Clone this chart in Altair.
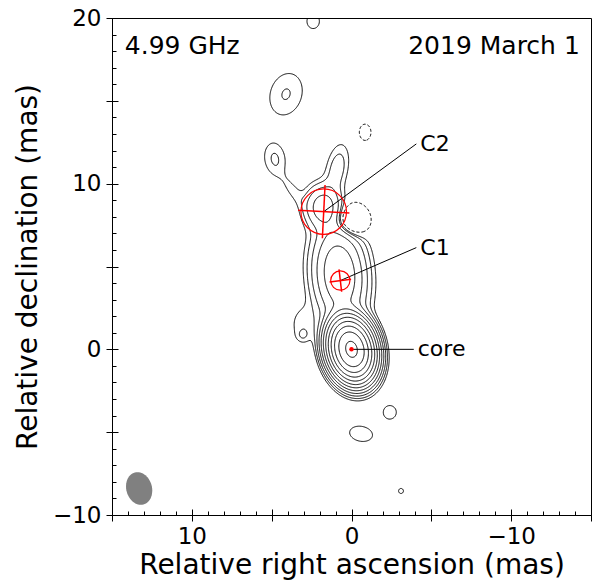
import numpy as np
import pandas as pd
import altair as alt

alt.data_transformers.disable_max_rows()

# ---------------- frame ----------------
X_DOMAIN = [15, -15]
Y_DOMAIN = [-10, 20]
W, H = 479, 497
x_major = [15, 10, 5, 0, -5, -10, -15]
y_major = [-10, -5, 0, 5, 10, 15, 20]
x_minor = list(range(-15, 16))
y_minor = list(range(-10, 21))

# ---------------- model image components read from the map ----------------
# position (mas), peak (units of lowest contour), sigma major/minor (mas), PA (deg, N through E)
comp_x    = [0.00, 0.75, 1.80, -0.05, 0.90, 3.70, 4.80, 4.10, -0.85, 2.40, 3.00, 3.05, -2.40, -0.60, -3.10]
comp_y    = [0.00, 4.50, 8.60, 7.75, 10.90, 9.60, 11.50, 15.40, 13.10, 19.80, 1.50, 0.85, -3.80, -5.10, -8.55]
comp_amp  = [2470, 29.0, 11.6, -8.0, 3.0, 1.3, 2.2, 2.1, -1.4, 1.6, 1.6, 1.3, 1.5, 1.5, 1.1]
comp_smaj = [0.80, 1.60, 0.75, 0.60, 1.00, 0.80, 0.75, 1.05, 0.60, 0.45, 0.80, 0.25, 0.45, 0.80, 0.35]
comp_smin = [0.58, 0.87, 0.65, 0.60, 0.45, 0.30, 0.50, 0.80, 0.45, 0.40, 0.60, 0.25, 0.45, 0.50, 0.35]
comp_pa   = [15, 5, 0, 0, -12, 36, 10, -20, 0, 0, 0, 0, 0, 80, 0]

levels_pos = [1, 2, 4, 8, 16, 32, 64, 128, 256, 512, 1024, 2048]
levels_neg = [-1]

# fitted components (red circles)
fit_name = ["core", "C1", "C2"]
fit_x = [0.00, 0.70, 1.74]
fit_y = [0.00, 4.15, 8.31]
fit_diam = [0.0, 1.36, 3.22]
fit_cross_pa = [0, 7, -3]
lab_x = [-3.9, -4.06, -4.06]
lab_y = [0.0, 6.14, 12.40]

# restoring beam
beam_x, beam_y = 13.3, -8.4
beam_maj, beam_min, beam_pa = 2.0, 1.55, 15

# epoch / frequency
info_text = ["4.99 GHz", "2019 March 1"]
info_x = [14.2, -14.3]
info_y = [17.85, 17.85]
info_align = ["left", "right"]

# ---------------- build model image ----------------
gx = np.linspace(-15, 15, 601)
gy = np.linspace(-10, 20, 601)
GX, GY = np.meshgrid(gx, gy)
F = np.zeros_like(GX)
for cx, cy, a, smj, smn, pa in zip(comp_x, comp_y, comp_amp, comp_smaj, comp_smin, comp_pa):
    t = np.deg2rad(pa)
    dx, dy = GX - cx, GY - cy
    u = dx * np.sin(t) + dy * np.cos(t)
    v = dx * np.cos(t) - dy * np.sin(t)
    F += a * np.exp(-(u ** 2 / (2 * smj ** 2) + v ** 2 / (2 * smn ** 2)))


def contour_paths(F, xs, ys, level):
    above = F >= level
    c0 = above[:-1, :-1]; c1 = above[:-1, 1:]; c2 = above[1:, 1:]; c3 = above[1:, :-1]
    idx = c0 * 1 + c1 * 2 + c2 * 4 + c3 * 8
    cells = np.argwhere((idx > 0) & (idx < 15))
    adj = {}

    def add(a, b):
        adj.setdefault(a, []).append(b)
        adj.setdefault(b, []).append(a)

    for i, j in cells:
        s = [above[i, j], above[i, j + 1], above[i + 1, j + 1], above[i + 1, j]]
        E = [("h", i, j), ("v", i, j + 1), ("h", i + 1, j), ("v", i, j)]
        cross = [k for k in range(4) if s[k] != s[(k + 1) % 4]]
        if len(cross) == 2:
            add(E[cross[0]], E[cross[1]])
        elif len(cross) == 4:
            center = (F[i, j] + F[i, j + 1] + F[i + 1, j + 1] + F[i + 1, j]) / 4 >= level
            if s[0] == center:
                add(E[0], E[1]); add(E[2], E[3])
            else:
                add(E[3], E[0]); add(E[1], E[2])

    def pt(key):
        kind, i, j = key
        if kind == "h":
            f0, f1 = F[i, j], F[i, j + 1]
            t = (level - f0) / (f1 - f0)
            return xs[j] + t * (xs[j + 1] - xs[j]), ys[i]
        f0, f1 = F[i, j], F[i + 1, j]
        t = (level - f0) / (f1 - f0)
        return xs[j], ys[i] + t * (ys[i + 1] - ys[i])

    visited = set()
    paths = []

    def walk(start):
        path = [start]; visited.add(start); cur = start
        while True:
            nxt = [n for n in adj[cur] if n not in visited]
            if not nxt:
                break
            cur = nxt[0]; visited.add(cur); path.append(cur)
        return path

    for n, nb in adj.items():
        if len(nb) == 1 and n not in visited:
            paths.append(walk(n))
    for n in adj:
        if n not in visited:
            p = walk(n); p.append(p[0]); paths.append(p)
    return [[pt(k) for k in p] for p in paths]


rows = []
cid = 0
for lev in levels_pos + levels_neg:
    for p in contour_paths(F, gx, gy, lev):
        for k, (x, y) in enumerate(p):
            rows.append((cid, k, x, y, "neg" if lev < 0 else "pos"))
        cid += 1
cdf = pd.DataFrame(rows, columns=["cid", "k", "x", "y", "kind"])

FONT = "DejaVu Sans"
xsc = alt.Scale(domain=X_DOMAIN, nice=False, zero=False)
ysc = alt.Scale(domain=Y_DOMAIN, nice=False, zero=False)

x_axis = alt.Axis(values=x_major, tickSize=6, tickColor="black", domain=False, grid=False,
                  labelExpr="abs(datum.value) % 10 === 0 ? datum.label : ''",
                  labelFont=FONT, labelFontSize=23, labelColor="black", labelPadding=4,
                  labelFlush=False, labelOverlap=False,
                  title="Relative right ascension (mas)", titleFont=FONT, titleFontSize=28,
                  titleFontWeight="normal", titleColor="black", titlePadding=3)
y_axis = alt.Axis(values=y_major, tickSize=6, tickColor="black", domain=False, grid=False,
                  labelExpr="abs(datum.value) % 10 === 0 ? datum.label : ''",
                  labelFont=FONT, labelFontSize=23, labelColor="black", labelPadding=5,
                  labelFlush=False, labelOverlap=False,
                  title="Relative declination (mas)", titleFont=FONT, titleFontSize=28,
                  titleFontWeight="normal", titleColor="black", titlePadding=10)

contours = alt.Chart(cdf).mark_line(color="black", strokeWidth=1, clip=True).encode(
    x=alt.X("x:Q", scale=xsc, axis=x_axis),
    y=alt.Y("y:Q", scale=ysc, axis=y_axis),
    detail="cid:N",
    order="k:Q",
    strokeDash=alt.StrokeDash("kind:N", scale=alt.Scale(domain=["pos", "neg"], range=[[1, 0], [3, 2]]), legend=None),
)


def x_in_axis(vals, size):
    d = pd.DataFrame({"v": vals})
    return alt.Chart(d).mark_point(opacity=0).encode(
        x=alt.X("v:Q", scale=xsc, axis=alt.Axis(orient="top", offset=-H, values=vals, tickSize=size,
                                                 tickColor="black", labels=False, domain=False, grid=False, title=None)))


def y_in_axis(vals, size):
    d = pd.DataFrame({"v": vals})
    return alt.Chart(d).mark_point(opacity=0).encode(
        y=alt.Y("v:Q", scale=ysc, axis=alt.Axis(orient="right", offset=-W, values=vals, tickSize=size,
                                                 tickColor="black", labels=False, domain=False, grid=False, title=None)))


NOAX_X = dict(scale=xsc, axis=None)
NOAX_Y = dict(scale=ysc, axis=None)

# fitted components
px_per_mas = W / 30.0
fdf = pd.DataFrame({"name": fit_name, "x": fit_x, "y": fit_y, "d": fit_diam, "pa": fit_cross_pa,
                    "lx": lab_x, "ly": lab_y})
fdf["size"] = np.pi * (fdf["d"] / 2 * px_per_mas) ** 2
t = np.deg2rad(fdf["pa"])
r = fdf["d"] / 2
fdf["vx1"] = fdf["x"] + r * np.sin(t); fdf["vy1"] = fdf["y"] + r * np.cos(t)
fdf["vx2"] = fdf["x"] - r * np.sin(t); fdf["vy2"] = fdf["y"] - r * np.cos(t)
fdf["hx1"] = fdf["x"] + r * np.cos(t); fdf["hy1"] = fdf["y"] - r * np.sin(t)
fdf["hx2"] = fdf["x"] - r * np.cos(t); fdf["hy2"] = fdf["y"] + r * np.sin(t)
comps = fdf[fdf["d"] > 0]
core = fdf[fdf["d"] == 0]

leader = alt.Chart(fdf).mark_rule(color="black", strokeWidth=1).encode(
    x=alt.X("x:Q", **NOAX_X), y=alt.Y("y:Q", **NOAX_Y), x2="lx:Q", y2="ly:Q")
labels = alt.Chart(fdf).mark_text(align="left", baseline="middle", dx=4, font=FONT, fontSize=22,
                                  color="black").encode(
    x=alt.X("lx:Q", **NOAX_X), y=alt.Y("ly:Q", **NOAX_Y), text="name:N")
circles = alt.Chart(comps).mark_point(shape="circle", filled=False, color="red", strokeWidth=1.2,
                                      opacity=1).encode(
    x=alt.X("x:Q", **NOAX_X), y=alt.Y("y:Q", **NOAX_Y), size=alt.Size("size:Q", scale=None))
cross_v = alt.Chart(comps).mark_rule(color="red", strokeWidth=1.5).encode(
    x=alt.X("vx1:Q", **NOAX_X), y=alt.Y("vy1:Q", **NOAX_Y), x2="vx2:Q", y2="vy2:Q")
cross_h = alt.Chart(comps).mark_rule(color="red", strokeWidth=1.5).encode(
    x=alt.X("hx1:Q", **NOAX_X), y=alt.Y("hy1:Q", **NOAX_Y), x2="hx2:Q", y2="hy2:Q")
core_dot = alt.Chart(core).mark_point(shape="circle", filled=True, color="red", size=20, opacity=1).encode(
    x=alt.X("x:Q", **NOAX_X), y=alt.Y("y:Q", **NOAX_Y))

# beam ellipse as a custom symbol
ratio = beam_min / beam_maj
tt = np.linspace(0, 2 * np.pi, 61)[:-1]
path = "M" + " L".join(f"{ratio*np.cos(a):.4f},{np.sin(a):.4f}" for a in tt) + " Z"
bdf = pd.DataFrame({"x": [beam_x], "y": [beam_y], "ang": [(360 - beam_pa) % 360],
                    "size": [(beam_maj * (H / 30.0)) ** 2]})
beam = alt.Chart(bdf).mark_point(shape=path, filled=True, color="#808080", opacity=1, strokeWidth=0).encode(
    x=alt.X("x:Q", **NOAX_X), y=alt.Y("y:Q", **NOAX_Y), angle=alt.Angle("ang:Q", scale=None),
    size=alt.Size("size:Q", scale=None))

idf = pd.DataFrame({"t": info_text, "x": info_x, "y": info_y, "al": info_align})
info_l = alt.Chart(idf[idf.al == "left"]).mark_text(align="left", baseline="alphabetic", font=FONT,
                                                    fontSize=25, color="black").encode(
    x=alt.X("x:Q", **NOAX_X), y=alt.Y("y:Q", **NOAX_Y), text="t:N")
info_r = alt.Chart(idf[idf.al == "right"]).mark_text(align="right", baseline="alphabetic", font=FONT,
                                                     fontSize=25, color="black").encode(
    x=alt.X("x:Q", **NOAX_X), y=alt.Y("y:Q", **NOAX_Y), text="t:N")

chart = alt.layer(
    contours,
    x_in_axis(x_minor, 4), x_in_axis(x_major, 6),
    y_in_axis(y_minor, 4), y_in_axis(y_major, 6),
    beam, leader, circles, cross_v, cross_h, core_dot, labels, info_l, info_r,
).resolve_axis(x="independent", y="independent").properties(
    width=W, height=H,
    autosize=alt.AutoSizeParams(type="none"),
    padding={"left": 104, "top": 10, "right": 1, "bottom": 65},
).configure_view(stroke="black", strokeWidth=1)

chart.save("out.html", embed_options={"renderer": "svg", "actions": False})
